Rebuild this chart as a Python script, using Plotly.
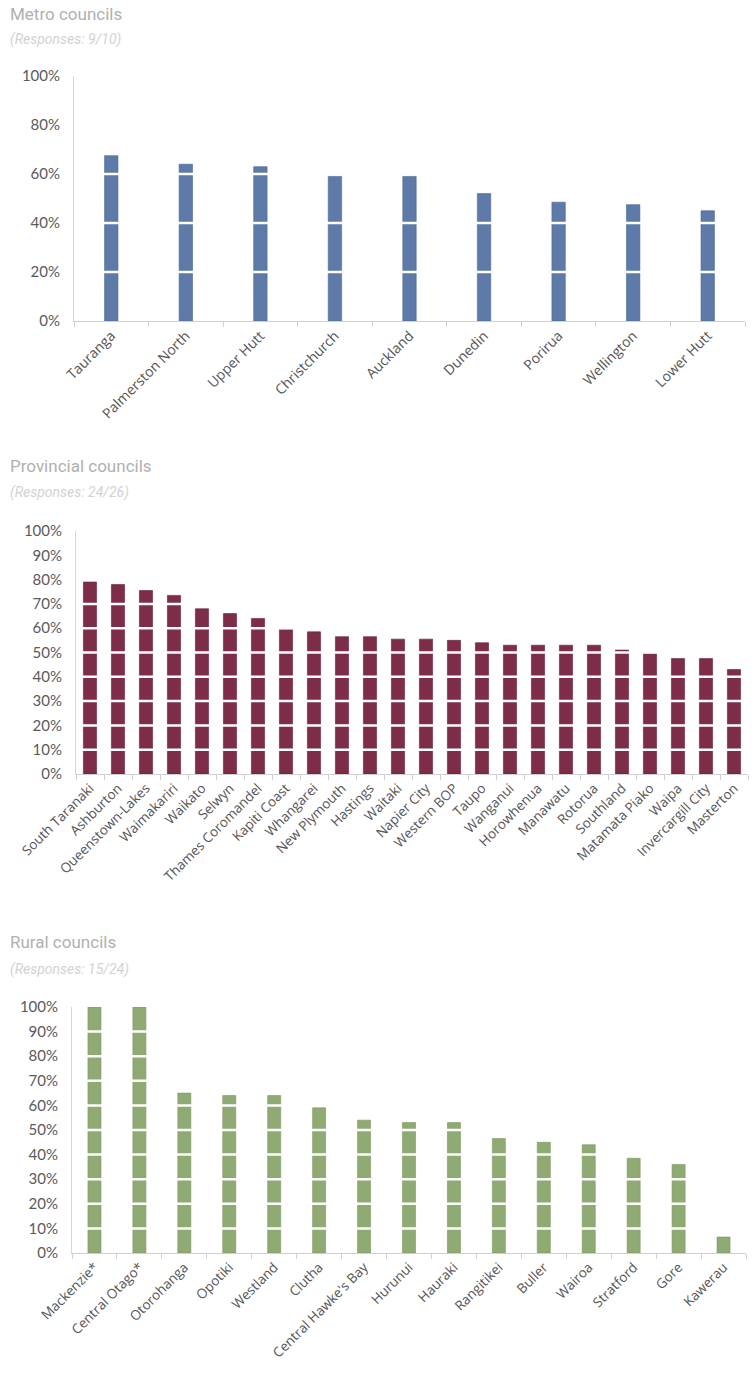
import plotly.graph_objects as go

# --- data -------------------------------------------------------------
metro_councils = ["Tauranga", "Palmerston North", "Upper Hutt", "Christchurch",
                  "Auckland", "Dunedin", "Porirua", "Wellington", "Lower Hutt"]
metro_values = [67.5, 64, 63, 59, 59, 52, 48.5, 47.5, 45]

provincial_councils = ["South Taranaki", "Ashburton", "Queenstown-Lakes", "Waimakariri",
                       "Waikato", "Selwyn", "Thames Coromandel", "Kapiti Coast",
                       "Whangarei", "New Plymouth", "Hastings", "Waitaki", "Napier City",
                       "Western BOP", "Taupo", "Wanganui", "Horowhenua", "Manawatu",
                       "Rotorua", "Southland", "Matamata Piako", "Waipa",
                       "Invercargill City", "Masterton"]
provincial_values = [79, 78, 75.5, 73.5, 68, 66, 64, 59.5, 58.5, 56.5, 56.5, 55.5, 55.5,
                     55, 54, 53, 53, 53, 53, 51, 49.5, 47.5, 47.5, 43]

rural_councils = ["Mackenzie*", "Central Otago*", "Otorohanga", "Opotiki", "Westland",
                  "Clutha", "Central Hawke's Bay", "Hurunui", "Hauraki", "Rangitikei",
                  "Buller", "Wairoa", "Stratford", "Gore", "Kawerau"]
rural_values = [100, 100, 65, 64, 64, 59, 54, 53, 53, 46.5, 45, 44, 38.5, 36, 6.5]

metro_ticks = [0, 20, 40, 60, 80, 100]
tenths_ticks = [0, 10, 20, 30, 40, 50, 60, 70, 80, 90, 100]

# --- layout geometry ----------------------------------------------------
W, H = 752, 1383


def ydom(px_bottom, px_top):
    return [1 - px_bottom / H, 1 - px_top / H]


panels = [
    dict(name="Metro councils", resp="(Responses: 9/10)",
         cats=metro_councils, vals=metro_values, ticks=metro_ticks,
         color="#5d7aa8", line="#4d6890", xfont=14,
         xdom=[74 / W, 745 / W], ydom=ydom(321, 76), width=0.18,
         title_y=14, resp_y=40),
    dict(name="Provincial councils", resp="(Responses: 24/26)",
         cats=provincial_councils, vals=provincial_values, ticks=tenths_ticks,
         color="#7d2d4a", line="#62203a", xfont=13.5,
         xdom=[76 / W, 748 / W], ydom=ydom(774, 531), width=0.47,
         title_y=466, resp_y=492),
    dict(name="Rural councils", resp="(Responses: 15/24)",
         cats=rural_councils, vals=rural_values, ticks=tenths_ticks,
         color="#8fab73", line="#7a965f", xfont=13.5,
         xdom=[72 / W, 746 / W], ydom=ydom(1253, 1007), width=0.29,
         title_y=942, resp_y=969),
]

fig = go.Figure()
shapes = []
annotations = []

for i, p in enumerate(panels, start=1):
    xa = "x" if i == 1 else f"x{i}"
    ya = "y" if i == 1 else f"y{i}"
    fig.add_trace(go.Bar(
        x=p["cats"], y=p["vals"], xaxis=xa, yaxis=ya, width=p["width"],
        marker=dict(color=p["color"], line=dict(color=p["line"], width=0.6)),
        hoverinfo="x+y", showlegend=False,
    ))
    xkey = "xaxis" if i == 1 else f"xaxis{i}"
    ykey = "yaxis" if i == 1 else f"yaxis{i}"
    fig.update_layout(**{
        xkey: dict(
            domain=p["xdom"], anchor=ya, type="category", automargin=False,
            showgrid=False, zeroline=False,
            showline=True, linecolor="#d0d0d0", linewidth=1.2,
            ticks="outside", tickson="boundaries", ticklen=5,
            tickcolor="#d0d0d0", tickwidth=1,
            tickangle=-45,
            tickfont=dict(family="Open Sans, sans-serif", size=p["xfont"], color="#555555"),
        ),
        ykey: dict(
            domain=p["ydom"], anchor=xa, range=[0, 100], automargin=False,
            tickvals=p["ticks"], ticktext=[f"{t}%" for t in p["ticks"]],
            showgrid=False, zeroline=False,
            showline=True, linecolor="#d8d8d8", linewidth=1,
            ticks="", ticklabelstandoff=10,
            tickfont=dict(family="Lato, sans-serif", size=15, color="#5a5a5a"),
        ),
    })
    # white separator lines across the bars at each inner tick value
    for t in p["ticks"][1:-1]:
        shapes.append(dict(
            type="line", xref=f"{xa} domain", yref=ya,
            x0=0.006, x1=1, y0=t, y1=t,
            line=dict(color="white", width=2.5), layer="above",
        ))
    annotations.append(dict(
        text=p["name"], xref="paper", yref="paper",
        x=8 / W, y=1 - p["title_y"] / H, xanchor="left", yanchor="middle",
        showarrow=False,
        font=dict(family="Roboto, sans-serif", size=17, color="#b0b0b0"),
    ))
    annotations.append(dict(
        text=f"<i>{p['resp']}</i>", xref="paper", yref="paper",
        x=8 / W, y=1 - p["resp_y"] / H, xanchor="left", yanchor="middle",
        showarrow=False,
        font=dict(family="Roboto, sans-serif", size=14, color="#d2d2d2"),
    ))

fig.update_layout(
    width=W, height=H,
    margin=dict(l=0, r=0, t=0, b=0),
    paper_bgcolor="white", plot_bgcolor="white",
    shapes=shapes, annotations=annotations,
    showlegend=False,
)

fig.write_html("out.html")
